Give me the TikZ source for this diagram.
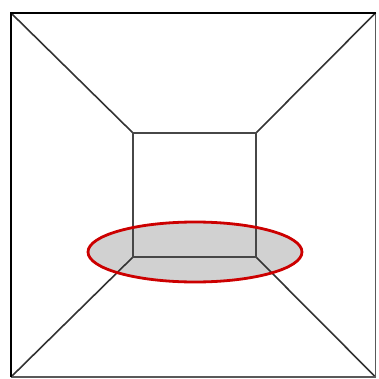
\documentclass[tikz,border=0pt]{standalone}
\begin{document}
\begin{tikzpicture}[x=1pt,y=-1pt,
  outerbox/.style={draw=black,line width=2.6pt,line cap=square},
  outerthin/.style={draw=black!65,line width=1.4pt},
  diag/.style={draw=black!80,line width=1.6pt},
  innerbox/.style={draw=black!72,line width=1.8pt},
  spot/.style={fill=black!18},
  spotline/.style={draw=red!80!black,line width=2.8pt}]
\useasboundingbox (0,0) rectangle (378,379);
\coordinate (O1) at (11,13);
\coordinate (O2) at (375.5,13);
\coordinate (O3) at (375.5,377);
\coordinate (O4) at (11,377);
\coordinate (I1) at (133,133);
\coordinate (I2) at (256,133);
\coordinate (I3) at (256,257);
\coordinate (I4) at (133,257);
\coordinate (E) at (195,252);
\path[spot] (E) ellipse [x radius=107, y radius=30];
\draw[diag] (O1) -- (I1);
\draw[diag] (O2) -- (I2);
\draw[diag] (O3) -- (I3);
\draw[diag] (O4) -- (I4);
\draw[innerbox] (I1) -- (I2) -- (I3) -- (I4) -- cycle;
\draw[outerthin] (O2) -- (O3) -- (O4);
\draw[outerbox] (O4) -- (O1) -- (O2);
\draw[spotline] (E) ellipse [x radius=107, y radius=30];
\end{tikzpicture}
\end{document}
